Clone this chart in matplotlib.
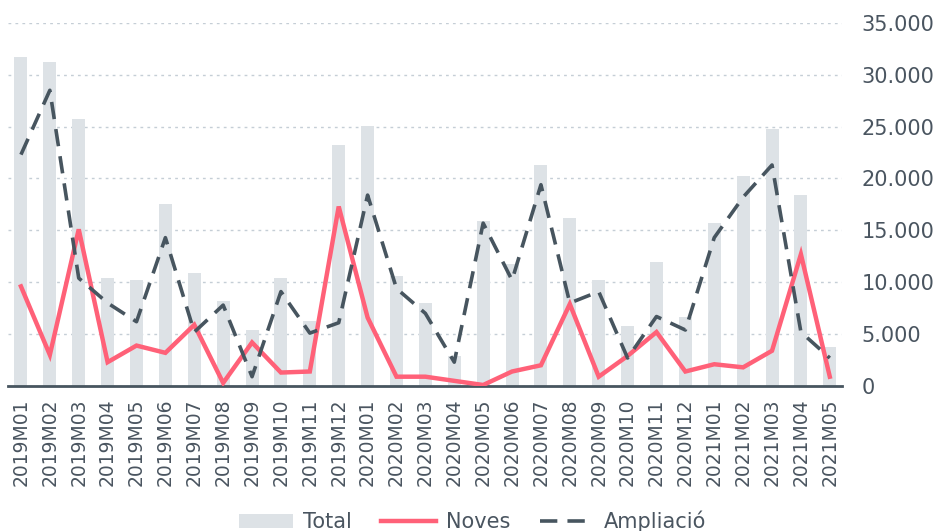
import matplotlib.pyplot as plt
from matplotlib.ticker import FuncFormatter

months = ["2019M01", "2019M02", "2019M03", "2019M04", "2019M05", "2019M06",
          "2019M07", "2019M08", "2019M09", "2019M10", "2019M11", "2019M12",
          "2020M01", "2020M02", "2020M03", "2020M04", "2020M05", "2020M06",
          "2020M07", "2020M08", "2020M09", "2020M10", "2020M11", "2020M12",
          "2021M01", "2021M02", "2021M03", "2021M04", "2021M05"]

total = [31700, 31200, 25700, 10400, 10200, 17500, 10900, 8200, 5400, 10400,
         6300, 23200, 25100, 10600, 8000, 2900, 15900, 11800, 21300, 16200,
         10200, 5800, 12000, 6700, 15700, 20200, 24800, 18400, 3800]

noves = [9600, 3000, 15100, 2300, 3900, 3200, 5900, 300, 4200, 1300,
         1400, 17300, 6600, 900, 900, 500, 100, 1400, 2000, 7900,
         900, 2900, 5200, 1400, 2100, 1800, 3400, 12700, 900]

ampliacio = [22300, 28500, 10400, 8000, 6200, 14300, 5200, 7800, 900, 9100,
             5100, 6100, 18400, 9400, 7000, 2300, 15700, 10200, 19400, 8000,
             9100, 2700, 6700, 5400, 14300, 18200, 21300, 5200, 2700]

text_col = "#4a5560"

fig = plt.figure(figsize=(9.36, 5.31), dpi=100)
ax = fig.add_axes([0.0085, 0.273, 0.891, 0.684])

x = range(len(months))
bars = ax.bar(x, total, width=0.45, color="#dde2e6", label="Total", zorder=2)
l1, = ax.plot(x, noves, color="#ff6178", lw=3.2, label="Noves", zorder=3,
              solid_joinstyle="miter")
l2, = ax.plot(x, ampliacio, color="#47555f", lw=2.6, ls=(0, (4.8, 2.8)),
              label="Ampliació", zorder=4)

ax.set_xlim(-0.45, 28.42)
ax.set_ylim(0, 35000)
ax.set_yticks(range(0, 35001, 5000))
ax.yaxis.set_major_formatter(FuncFormatter(lambda v, p: f"{int(v):,}".replace(",", ".")))
ax.yaxis.tick_right()
ax.grid(axis="y", color="#c5ced6", ls=(0, (2, 3)), lw=1, zorder=0)

ax.set_xticks(list(x))
ax.set_xticklabels(months, rotation=90)
ax.tick_params(axis="both", length=0, colors=text_col)
ax.tick_params(axis="y", labelsize=15, pad=14)
ax.tick_params(axis="x", labelsize=13.5, pad=9)

for s in ["top", "left", "right"]:
    ax.spines[s].set_visible(False)
ax.spines["bottom"].set_color("#47555f")
ax.spines["bottom"].set_linewidth(2)

fig.legend([bars, l1, l2], ["Total", "Noves", "Ampliació"],
           loc="center", bbox_to_anchor=(0.505, 0.018), ncol=3, frameon=False,
           fontsize=15, labelcolor=text_col, handlelength=2.6,
           handletextpad=0.5, columnspacing=1.4)

fig.savefig("out.png", dpi=100)
